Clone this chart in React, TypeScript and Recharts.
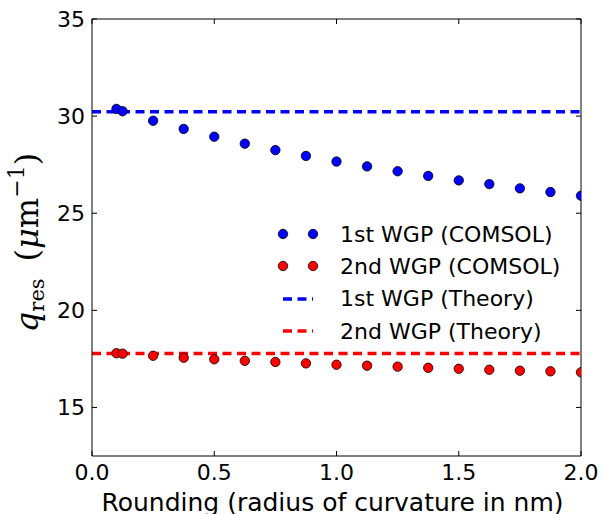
import React from 'react';
import { ComposedChart, Scatter, XAxis, YAxis, ReferenceLine, Legend } from 'recharts';

// Rounding radius of curvature (nm)
const radiusNm = [0.1, 0.125, 0.25, 0.375, 0.5, 0.625, 0.75, 0.875, 1.0, 1.125, 1.25, 1.375, 1.5, 1.625, 1.75, 1.875, 2.0];
// Resonant wavevector from COMSOL simulations (µm^-1)
const firstWgpComsol = [30.37, 30.25, 29.76, 29.34, 28.94, 28.58, 28.25, 27.95, 27.66, 27.41, 27.16, 26.92, 26.69, 26.5, 26.28, 26.09, 25.9];
const secondWgpComsol = [17.79, 17.77, 17.66, 17.56, 17.48, 17.4, 17.34, 17.27, 17.2, 17.15, 17.1, 17.04, 16.99, 16.94, 16.89, 16.86, 16.81];
// Analytical predictions (µm^-1)
const firstWgpTheory = 30.22;
const secondWgpTheory = 17.78;

const xTicks = [0, 0.5, 1, 1.5, 2];
const yTicks = [15, 20, 25, 30, 35];
const xDomain: [number, number] = [0, 2];
const yDomain: [number, number] = [12.5, 35];

const WIDTH = 602;
const HEIGHT = 514;
const MARGIN = { top: 19, right: 21, bottom: 0, left: 0 };
const PLOT_TOP = MARGIN.top;
const PLOT_RIGHT = WIDTH - MARGIN.right;

const BLUE = '#0000ff';
const RED = '#ff0000';
const SANS = '"DejaVu Sans", sans-serif';
const SERIF = '"DejaVu Serif", serif';
const TICK_LEN = 5;
const DASH = '9 5.5';

const firstData = radiusNm.map((x, i) => ({ x, y: firstWgpComsol[i] }));
const secondData = radiusNm.map((x, i) => ({ x, y: secondWgpComsol[i] }));

const legendItems = [
  { name: '1st WGP (COMSOL)', color: BLUE, kind: 'dots' },
  { name: '2nd WGP (COMSOL)', color: RED, kind: 'dots' },
  { name: '1st WGP (Theory)', color: BLUE, kind: 'dash' },
  { name: '2nd WGP (Theory)', color: RED, kind: 'dash' },
];

const makeDot = (color: string) => (props: any) => (
  <circle cx={props.cx} cy={props.cy} r={4.7} fill={color} stroke="#000" strokeWidth={0.8} />
);

// Bottom ticks point inward, with a mirrored tick on the top frame edge
const BottomTick = (props: any) => {
  const { x, y, payload } = props;
  return (
    <g>
      <line x1={x} x2={x} y1={y} y2={y - TICK_LEN} stroke="#000" strokeWidth={1} />
      <line x1={x} x2={x} y1={PLOT_TOP} y2={PLOT_TOP + TICK_LEN} stroke="#000" strokeWidth={1} />
      <text x={x} y={y + 24} textAnchor="middle" fontFamily={SANS} fontSize={22} fill="#000">
        {Number(payload.value).toFixed(1)}
      </text>
    </g>
  );
};

// Left ticks point inward, with a mirrored tick on the right frame edge
const LeftTick = (props: any) => {
  const { x, y, payload } = props;
  return (
    <g>
      <line x1={x} x2={x + TICK_LEN} y1={y} y2={y} stroke="#000" strokeWidth={1} />
      <line x1={PLOT_RIGHT} x2={PLOT_RIGHT - TICK_LEN} y1={y} y2={y} stroke="#000" strokeWidth={1} />
      <text x={x - 7} y={y + 8} textAnchor="end" fontFamily={SANS} fontSize={22} fill="#000">
        {payload.value}
      </text>
    </g>
  );
};

const XTitle = (props: any) => {
  const vb = props.viewBox;
  return (
    <text x={vb.x + vb.width / 2 - 4} y={vb.y + 55} textAnchor="middle" fontFamily={SANS} fontSize={25} fill="#000">
      Rounding (radius of curvature in nm)
    </text>
  );
};

const YTitle = (props: any) => {
  const vb = props.viewBox;
  const cx = vb.x + 38;
  const cy = vb.y + vb.height / 2 + 5;
  return (
    <text
      x={cx}
      y={cy}
      transform={`rotate(-90, ${cx}, ${cy})`}
      textAnchor="middle"
      fontFamily={SERIF}
      fontSize={32}
      fill="#000"
    >
      <tspan fontStyle="italic">q</tspan>
      <tspan fontSize={21} dy={6}>res</tspan>
      <tspan dy={-6} dx={17}>(</tspan>
      <tspan fontStyle="italic">μ</tspan>
      <tspan>m</tspan>
      <tspan fontSize={22} dy={-14}>−1</tspan>
      <tspan dy={14}>)</tspan>
    </text>
  );
};

const LegendBox = () => (
  <div style={{ fontFamily: SANS, fontSize: 22, color: '#000' }}>
    {legendItems.map((item) => (
      <div key={item.name} style={{ display: 'flex', alignItems: 'center', height: 32.3 }}>
        <svg width={70} height={20} style={{ display: 'block' }}>
          {item.kind === 'dots' ? (
            <g>
              <circle cx={13} cy={10} r={4.7} fill={item.color} stroke="#000" strokeWidth={0.8} />
              <circle cx={43} cy={10} r={4.7} fill={item.color} stroke="#000" strokeWidth={0.8} />
            </g>
          ) : (
            <line x1={13} x2={43} y1={10} y2={10} stroke={item.color} strokeWidth={3.5} strokeDasharray={DASH} />
          )}
        </svg>
        <span style={{ whiteSpace: 'nowrap' }}>{item.name}</span>
      </div>
    ))}
  </div>
);

export default function App() {
  return (
    <div style={{ position: 'fixed', left: 0, top: 0, width: WIDTH, height: HEIGHT, background: '#fff' }}>
      <ComposedChart width={WIDTH} height={HEIGHT} margin={MARGIN}>
        <XAxis
          xAxisId="bottom"
          type="number"
          dataKey="x"
          domain={xDomain}
          ticks={xTicks}
          allowDataOverflow
          height={58}
          tickSize={0}
          tickMargin={0}
          tickLine={false}
          axisLine={{ stroke: '#000', strokeWidth: 1 }}
          tick={BottomTick}
          label={{ content: XTitle }}
        />
        <YAxis
          yAxisId="left"
          type="number"
          dataKey="y"
          domain={yDomain}
          ticks={yTicks}
          allowDataOverflow
          width={92}
          tickSize={0}
          tickMargin={0}
          tickLine={false}
          axisLine={{ stroke: '#000', strokeWidth: 1 }}
          tick={LeftTick}
          label={{ content: YTitle }}
        />
        {/* top and right frame edges */}
        <ReferenceLine xAxisId="bottom" yAxisId="left" y={yDomain[1]} stroke="#000" strokeWidth={1} />
        <ReferenceLine xAxisId="bottom" yAxisId="left" x={xDomain[1]} stroke="#000" strokeWidth={1} />
        <ReferenceLine
          xAxisId="bottom"
          yAxisId="left"
          y={firstWgpTheory}
          stroke={BLUE}
          strokeWidth={3.5}
          strokeDasharray={DASH}
        />
        <ReferenceLine
          xAxisId="bottom"
          yAxisId="left"
          y={secondWgpTheory}
          stroke={RED}
          strokeWidth={3.5}
          strokeDasharray={DASH}
        />
        <Scatter
          name="1st WGP (COMSOL)"
          xAxisId="bottom"
          yAxisId="left"
          data={firstData}
          dataKey="y"
          shape={makeDot(BLUE)}
          isAnimationActive={false}
        />
        <Scatter
          name="2nd WGP (COMSOL)"
          xAxisId="bottom"
          yAxisId="left"
          data={secondData}
          dataKey="y"
          shape={makeDot(RED)}
          isAnimationActive={false}
        />
        <Legend
          layout="vertical"
          align="center"
          verticalAlign="middle"
          content={LegendBox}
          wrapperStyle={{ left: 270, top: 218, width: 330, height: 132, right: 'auto', bottom: 'auto' }}
        />
      </ComposedChart>
    </div>
  );
}
